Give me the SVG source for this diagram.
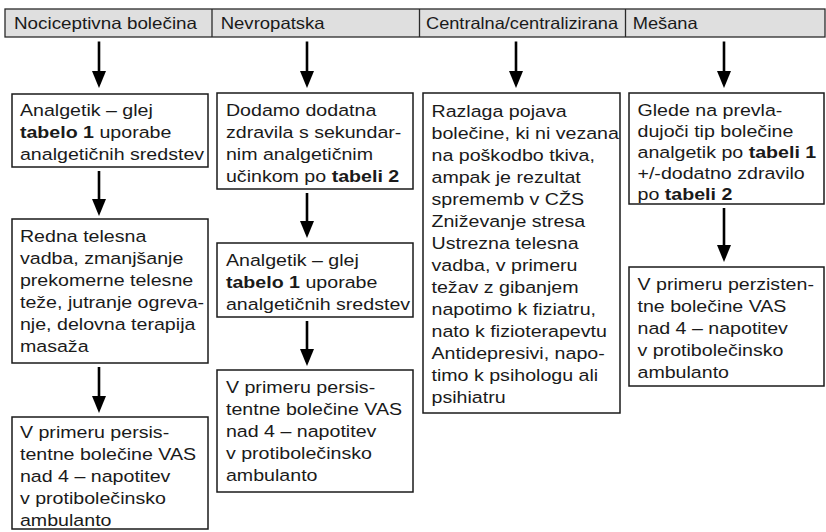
<svg xmlns="http://www.w3.org/2000/svg" width="826" height="532" viewBox="0 0 826 532">
<style>
  .hdr { fill: #dfdfdf; stroke: #2a2a2a; stroke-width: 1.3; }
  .div { stroke: #2a2a2a; stroke-width: 1.3; }
  .box { fill: #ffffff; stroke: #1a1a1a; stroke-width: 1.5; }
  .ht { font-family: "Liberation Sans", Arial, sans-serif; font-size: 16.5px; fill: #1a1a1a; }
  .t { font-family: "Liberation Sans", Arial, sans-serif; font-size: 17.2px; fill: #1a1a1a; }
  .b { font-weight: bold; }
  .arr { stroke: #000; stroke-width: 2.6; fill: none; marker-end: url(#ah); }
</style>
<defs>
  <marker id="ah" markerUnits="userSpaceOnUse" viewBox="0 0 17 14" markerWidth="17" markerHeight="14" refX="13" refY="7" orient="auto">
    <path d="M0,0 L17,7 L0,14 Z" fill="#000"/>
  </marker>
</defs>
<rect width="826" height="532" fill="#ffffff"/>

<g id="header">
  <rect class="hdr" x="5" y="9" width="820" height="28"/>
  <line class="div" x1="212" y1="9" x2="212" y2="37"/>
  <line class="div" x1="419.5" y1="9" x2="419.5" y2="37"/>
  <line class="div" x1="625.5" y1="9" x2="625.5" y2="37"/>
  <text class="ht" x="14" y="29.3" textLength="183" lengthAdjust="spacingAndGlyphs">Nociceptivna bolečina</text>
  <text class="ht" x="220.7" y="29.3" textLength="104" lengthAdjust="spacingAndGlyphs">Nevropatska</text>
  <text class="ht" x="426" y="29.3" textLength="192" lengthAdjust="spacingAndGlyphs">Centralna/centralizirana</text>
  <text class="ht" x="632.7" y="29.3" textLength="65" lengthAdjust="spacingAndGlyphs">Mešana</text>
</g>

<g id="connectors">
  <path class="arr" d="M99,41.5 V84"/>
  <path class="arr" d="M99,171 V212"/>
  <path class="arr" d="M99,367 V409"/>
  <path class="arr" d="M307,41.5 V84"/>
  <path class="arr" d="M307,193 V234"/>
  <path class="arr" d="M307,321 V362"/>
  <path class="arr" d="M516,41.5 V84"/>
  <path class="arr" d="M724,41.5 V84"/>
  <path class="arr" d="M724,208 V258"/>
</g>

<g id="n1a">
  <rect class="box" x="12" y="94" width="196" height="73"/>
  <g transform="scale(1.14 1)" class="t">
    <text x="17.5" y="116">Analgetik – glej</text>
    <text x="17.5" y="138"><tspan class="b">tabelo 1</tspan> uporabe</text>
    <text x="17.5" y="160">analgetičnih sredstev</text>
  </g>
</g>

<g id="n1b">
  <rect class="box" x="12" y="219" width="196" height="144"/>
  <g transform="scale(1.14 1)" class="t">
    <text x="17.5" y="242">Redna telesna</text>
    <text x="17.5" y="264">vadba, zmanjšanje</text>
    <text x="17.5" y="286">prekomerne telesne</text>
    <text x="17.5" y="308">teže, jutranje ogreva-</text>
    <text x="17.5" y="330">nje, delovna terapija</text>
    <text x="17.5" y="352">masaža</text>
  </g>
</g>

<g id="n1c">
  <rect class="box" x="12" y="417" width="196" height="112"/>
  <g transform="scale(1.14 1)" class="t">
    <text x="17.5" y="438">V primeru persis-</text>
    <text x="17.5" y="460">tentne bolečine VAS</text>
    <text x="17.5" y="482">nad 4 – napotitev</text>
    <text x="17.5" y="504">v protibolečinsko</text>
    <text x="17.5" y="526">ambulanto</text>
  </g>
</g>

<g id="n2a">
  <rect class="box" x="217" y="93" width="196" height="96"/>
  <g transform="scale(1.14 1)" class="t">
    <text x="198.2" y="116">Dodamo dodatna</text>
    <text x="198.2" y="138">zdravila s sekundar-</text>
    <text x="198.2" y="160">nim analgetičnim</text>
    <text x="198.2" y="182">učinkom po <tspan class="b">tabeli 2</tspan></text>
  </g>
</g>

<g id="n2b">
  <rect class="box" x="217" y="243" width="196" height="74"/>
  <g transform="scale(1.14 1)" class="t">
    <text x="198.2" y="266">Analgetik – glej</text>
    <text x="198.2" y="288"><tspan class="b">tabelo 1</tspan> uporabe</text>
    <text x="198.2" y="310">analgetičnih sredstev</text>
  </g>
</g>

<g id="n2c">
  <rect class="box" x="217" y="370" width="196" height="122"/>
  <g transform="scale(1.14 1)" class="t">
    <text x="198.2" y="393">V primeru persis-</text>
    <text x="198.2" y="415">tentne bolečine VAS</text>
    <text x="198.2" y="437">nad 4 – napotitev</text>
    <text x="198.2" y="459">v protibolečinsko</text>
    <text x="198.2" y="481">ambulanto</text>
  </g>
</g>

<g id="n3">
  <rect class="box" x="423" y="93" width="197" height="320"/>
  <g transform="scale(1.14 1)" class="t">
    <text x="378.5" y="117">Razlaga pojava</text>
    <text x="378.5" y="139">bolečine, ki ni vezana</text>
    <text x="378.5" y="161">na poškodbo tkiva,</text>
    <text x="378.5" y="183">ampak je rezultat</text>
    <text x="378.5" y="205">sprememb v CŽS</text>
    <text x="378.5" y="227">Zniževanje stresa</text>
    <text x="378.5" y="249">Ustrezna telesna</text>
    <text x="378.5" y="271">vadba, v primeru</text>
    <text x="378.5" y="293">težav z gibanjem</text>
    <text x="378.5" y="315">napotimo k fiziatru,</text>
    <text x="378.5" y="337">nato k fizioterapevtu</text>
    <text x="378.5" y="359">Antidepresivi, napo-</text>
    <text x="378.5" y="381">timo k psihologu ali</text>
    <text x="378.5" y="403">psihiatru</text>
  </g>
</g>

<g id="n4a">
  <rect class="box" x="629" y="93" width="195" height="111"/>
  <g transform="scale(1.14 1)" class="t">
    <text x="559.2" y="116">Glede na prevla-</text>
    <text x="559.2" y="137">dujoči tip bolečine</text>
    <text x="559.2" y="158">analgetik po <tspan class="b">tabeli 1</tspan></text>
    <text x="559.2" y="179">+/-dodatno zdravilo</text>
    <text x="559.2" y="200">po <tspan class="b">tabeli 2</tspan></text>
  </g>
</g>

<g id="n4b">
  <rect class="box" x="629" y="267" width="195" height="119"/>
  <g transform="scale(1.14 1)" class="t">
    <text x="559.2" y="290">V primeru perzisten-</text>
    <text x="559.2" y="312">tne bolečine VAS</text>
    <text x="559.2" y="334">nad 4 – napotitev</text>
    <text x="559.2" y="356">v protibolečinsko</text>
    <text x="559.2" y="378">ambulanto</text>
  </g>
</g>
</svg>
